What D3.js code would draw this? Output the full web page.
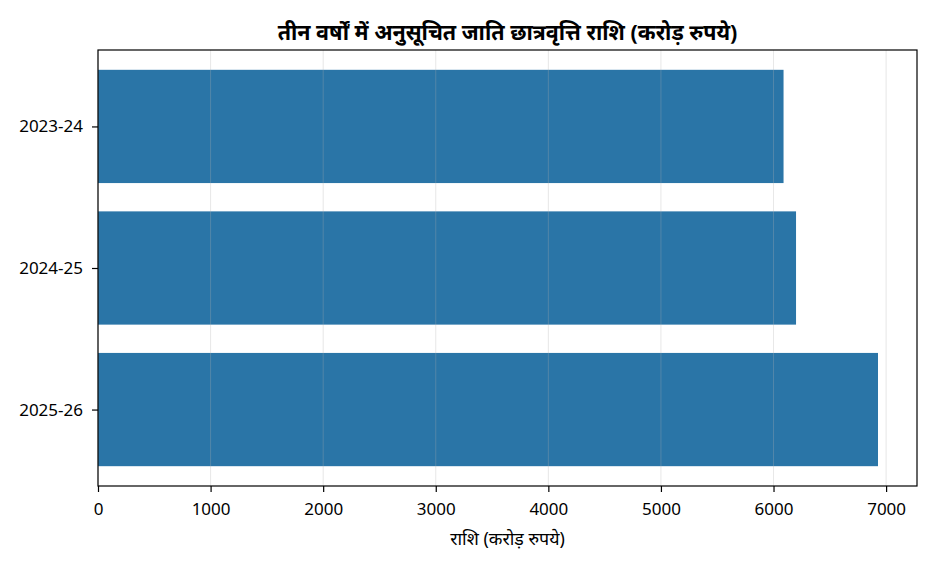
<!DOCTYPE html>
<html>
<head>
<meta charset="utf-8">
<script src="https://cdn.jsdelivr.net/npm/d3@7"></script>
<style>
  body { margin: 0; background: #fff; }
  svg { font-family: "Noto Sans", "Noto Sans Devanagari", sans-serif; }
</style>
</head>
<body>
<svg id="chart" width="936" height="572"></svg>
<script>
const years = ['2023-24', '2024-25', '2025-26']
const amounts = [6089, 6200, 6928]
const xTicks = [0, 1000, 2000, 3000, 4000, 5000, 6000, 7000]

const titleText = 'तीन वर्षों में अनुसूचित जाति छात्रवृत्ति राशि (करोड़ रुपये)'
const xLabelText = 'राशि (करोड़ रुपये)'

const margin = { top: 50, right: 19, bottom: 86, left: 98 }
const w = 936 - margin.left - margin.right
const h = 572 - margin.top - margin.bottom

const svg = d3.select('#chart')
const g = svg.append('g')
  .attr('transform', `translate(${margin.left},${margin.top})`)

// x scale with matplotlib style 5% margin on the right
const xMax = d3.max(amounts) * 1.05
const x = d3.scaleLinear().domain([0, xMax]).range([0, w])

// y: bars of height 0.8 with 5% padding, first category at top
const y = d3.scaleLinear().domain([-0.54, 2.54]).range([0, h])

// bars
g.selectAll('rect.bar')
  .data(years)
  .enter()
  .append('rect')
  .attr('class', 'bar')
  .attr('x', x(0))
  .attr('y', (d, i) => y(i - 0.4))
  .attr('width', (d, i) => x(amounts[i]) - x(0))
  .attr('height', y(0.8) - y(0))
  .attr('fill', '#2a75a7')

// grid over the bars
g.selectAll('line.grid')
  .data(xTicks)
  .enter()
  .append('line')
  .attr('class', 'grid')
  .attr('x1', d => x(d))
  .attr('x2', d => x(d))
  .attr('y1', 0)
  .attr('y2', h)
  .attr('stroke', '#b0b0b0')
  .attr('stroke-opacity', 0.3)
  .attr('stroke-width', 1)

// x axis
const xAxis = g.append('g')
  .attr('transform', `translate(0,${h})`)
  .call(d3.axisBottom(x).tickValues(xTicks).tickFormat(d3.format('d')).tickSize(6).tickPadding(11))
xAxis.select('.domain').remove()
xAxis.selectAll('.tick line').attr('stroke', '#000').attr('stroke-width', 1.2)
xAxis.selectAll('.tick text').attr('font-size', 17).attr('fill', '#000')
  .attr('font-family', '"Noto Sans", sans-serif')

// y axis
const yAxis = g.append('g')
  .call(d3.axisLeft(y).tickValues([0, 1, 2]).tickFormat(i => years[i]).tickSize(6).tickPadding(9))
yAxis.select('.domain').remove()
yAxis.selectAll('.tick line').attr('stroke', '#000').attr('stroke-width', 1.2)
yAxis.selectAll('.tick text').attr('font-size', 17).attr('fill', '#000')
  .attr('font-family', '"Noto Sans", sans-serif')

// frame
g.append('rect')
  .attr('x', 0).attr('y', 0)
  .attr('width', w).attr('height', h)
  .attr('fill', 'none')
  .attr('stroke', '#000')
  .attr('stroke-width', 1.2)

// title
svg.append('text')
  .attr('x', margin.left + w / 2)
  .attr('y', 40)
  .attr('text-anchor', 'middle')
  .attr('font-size', 21.5)
  .attr('font-weight', 'bold')
  .text(titleText)

// x label
svg.append('text')
  .attr('x', margin.left + w / 2)
  .attr('y', margin.top + h + 59)
  .attr('text-anchor', 'middle')
  .attr('font-size', 17.8)
  .text(xLabelText)
</script>
</body>
</html>
